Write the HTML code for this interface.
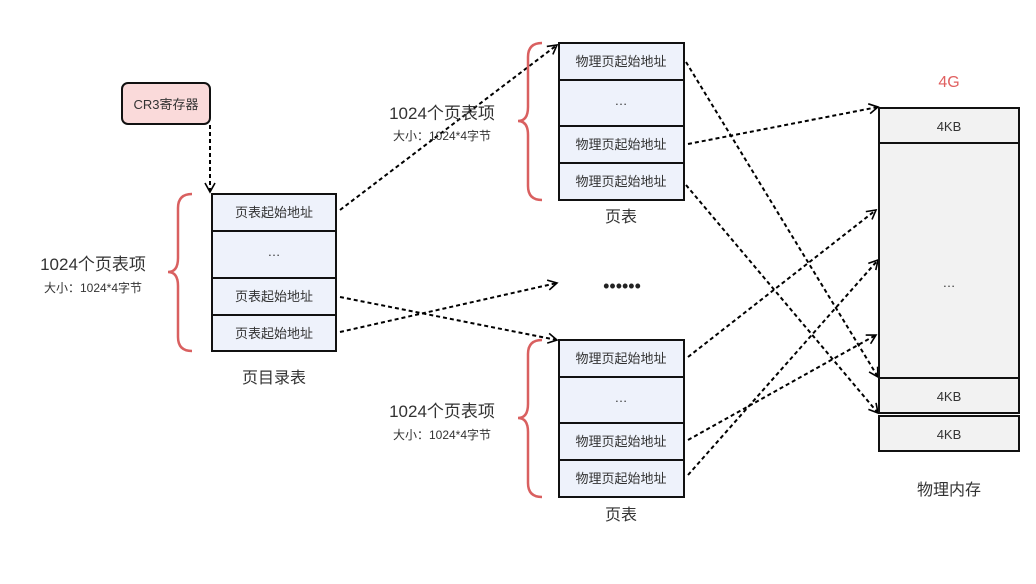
<!DOCTYPE html>
<html><head><meta charset="utf-8"><style>
html,body{margin:0;padding:0;background:#fff;width:1036px;height:584px;overflow:hidden}
svg text{font-family:"Liberation Sans","Noto Sans CJK SC",sans-serif;fill:#333}
</style></head><body>
<svg width="1036" height="584" viewBox="0 0 1036 584" xmlns="http://www.w3.org/2000/svg">
<defs>
<marker id="a" markerWidth="12" markerHeight="12" refX="10" refY="6" orient="auto" markerUnits="userSpaceOnUse">
<path d="M1,1 L10,6 L1,11" fill="none" stroke="#000" stroke-width="1.6"/></marker>
</defs>
<!-- CR3 -->
<rect x="122" y="83" width="88" height="41" rx="6" fill="#fadada" stroke="#111" stroke-width="2"/>
<text x="166" y="109" font-size="13" text-anchor="middle">CR3寄存器</text>
<g fill="none" stroke="#000" stroke-width="2" stroke-dasharray="4,3" marker-end="url(#a)">
<line x1="210" y1="125" x2="210" y2="192"/>
<line x1="340" y1="210" x2="557" y2="45"/>
<line x1="340" y1="297" x2="557" y2="340"/>
<line x1="340" y1="332" x2="557" y2="283"/>
<line x1="686" y1="62" x2="878" y2="377"/>
<line x1="688" y1="144" x2="878" y2="107"/>
<line x1="686" y1="185" x2="878" y2="413"/>
<line x1="688" y1="357" x2="876" y2="210"/>
<line x1="688" y1="440" x2="876" y2="335"/>
<line x1="688" y1="475" x2="878" y2="260"/>
</g>
<!-- PD -->
<g stroke="#111" stroke-width="2" fill="#eef2fb">
<rect x="212" y="194" width="124" height="37"/><rect x="212" y="231" width="124" height="47"/>
<rect x="212" y="278" width="124" height="37"/><rect x="212" y="315" width="124" height="36"/>
<rect x="559" y="43" width="125" height="37"/><rect x="559" y="80" width="125" height="46"/>
<rect x="559" y="126" width="125" height="37"/><rect x="559" y="163" width="125" height="37"/>
<rect x="559" y="340" width="125" height="37"/><rect x="559" y="377" width="125" height="46"/>
<rect x="559" y="423" width="125" height="37"/><rect x="559" y="460" width="125" height="37"/>
</g>
<g font-size="13" text-anchor="middle">
<text x="274" y="217">页表起始地址</text><text x="274" y="256">…</text>
<text x="274" y="301">页表起始地址</text><text x="274" y="338">页表起始地址</text>
<text x="621" y="66">物理页起始地址</text><text x="621" y="105">…</text>
<text x="621" y="149">物理页起始地址</text><text x="621" y="186">物理页起始地址</text>
<text x="621" y="363">物理页起始地址</text><text x="621" y="402">…</text>
<text x="621" y="446">物理页起始地址</text><text x="621" y="483">物理页起始地址</text>
</g>
<g font-size="16" text-anchor="middle">
<text x="274" y="383">页目录表</text><text x="621" y="222">页表</text><text x="621" y="520">页表</text>
<text x="949" y="495">物理内存</text>
</g>
<text x="949" y="87" font-size="16" text-anchor="middle" style="fill:#e06060">4G</text>
<text x="622" y="292" font-size="18" text-anchor="middle" style="fill:#222">••••••</text>
<!-- braces -->
<g fill="none" stroke="#d96060" stroke-width="2.5">
<path d="M192,194 Q178,194 178,208 L178,258 Q178,272 168,272 Q178,272 178,286 L178,337 Q178,351 192,351"/>
<path d="M542,43 Q528,43 528,57 L528,107 Q528,121 518,121 Q528,121 528,135 L528,186 Q528,200 542,200"/>
<path d="M542,340 Q528,340 528,354 L528,404 Q528,418 518,418 Q528,418 528,432 L528,483 Q528,497 542,497"/>
</g>
<text x="93" y="270" font-size="17" text-anchor="middle">1024个页表项</text>
<text x="93" y="292" font-size="12" text-anchor="middle">大小：1024*4字节</text>
<text x="442" y="119" font-size="17" text-anchor="middle">1024个页表项</text>
<text x="442" y="140" font-size="12" text-anchor="middle">大小：1024*4字节</text>
<text x="442" y="417" font-size="17" text-anchor="middle">1024个页表项</text>
<text x="442" y="439" font-size="12" text-anchor="middle">大小：1024*4字节</text>
<!-- memory -->
<g stroke="#111" stroke-width="2" fill="#f2f2f2">
<rect x="879" y="108" width="140" height="35"/><rect x="879" y="143" width="140" height="235"/>
<rect x="879" y="378" width="140" height="35"/><rect x="879" y="416" width="140" height="35"/>
</g>
<g font-size="13" text-anchor="middle">
<text x="949" y="131">4KB</text><text x="949" y="287">…</text>
<text x="949" y="401">4KB</text><text x="949" y="439">4KB</text>
</g>
</svg>
</body></html>
